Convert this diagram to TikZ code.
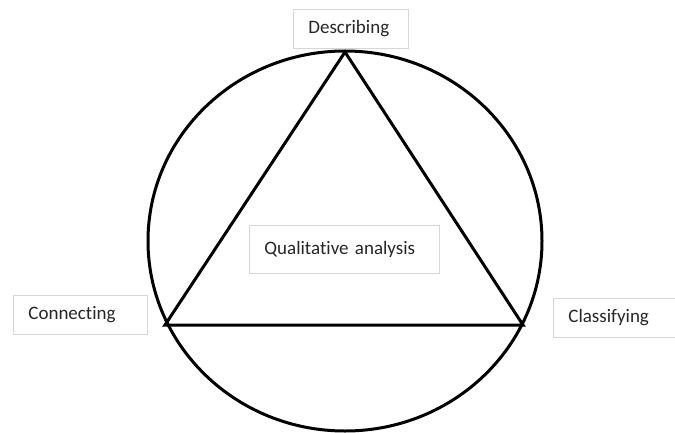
\documentclass[tikz,border=0pt]{standalone}
\usepackage{fontspec}
\setmainfont[Ligatures={NoCommon}]{Carlito}
\usetikzlibrary{positioning}

\begin{document}
\begin{tikzpicture}[
        x=1pt, y=-1pt,
        every node/.style={font=\fontsize{19}{21}\selectfont, text=black!85},
        lbl/.style={draw=black!16, line width=0.8pt, fill=white, anchor=north west, inner xsep=15pt, inner ysep=0pt, align=left, minimum height=39pt},
        edge/.style={line width=3pt, line join=miter}
    ]
        \useasboundingbox (0,0) rectangle (675,432);

        % circle and triangle
        \draw[edge] (345,241) ellipse [x radius=197, y radius=190];
        \coordinate (top) at (345,52);
        \coordinate (left) at (165,325);
        \coordinate (right) at (523,325);
        \draw[edge] (top) -- (right) -- (left) -- cycle;

        % labels
        \node[lbl, text width=85pt] (describing) at (293,9) {Describing};
        \node[lbl, text width=104pt] (connecting) at (13,295) {Connecting};
        \node[lbl, text width=92pt] (classifying) at (553,298) {Classifying};
        \node[lbl, text width=160pt, minimum height=48pt] (analysis) at (249,225) {Qualitative analysis};
    \end{tikzpicture}
\end{document}
